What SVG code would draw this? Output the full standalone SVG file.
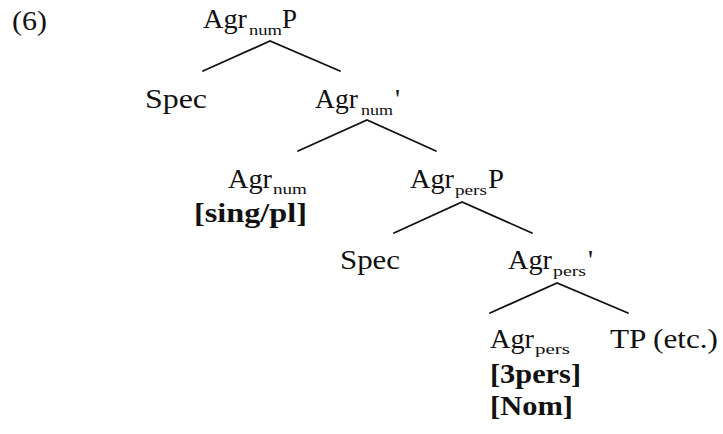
<svg xmlns="http://www.w3.org/2000/svg" width="723" height="434" viewBox="0 0 723 434">
<style>
text{font-family:"Liberation Serif","Times New Roman",serif;fill:#111;}
.m{font-size:28px;}
.s{font-size:15px;}
.b{font-size:28px;font-weight:bold;}
.e{stroke:#111;stroke-width:1.8;fill:none;stroke-linecap:round;}
</style>
<rect width="723" height="434" fill="#fff"/>
<text class="m" x="12" y="30" textLength="35" lengthAdjust="spacingAndGlyphs">(6)</text>
<g id="connectors">
<path class="e" d="M203,71 L270,41 L340,71"/>
<path class="e" d="M298,151 L367,120 L436,151"/>
<path class="e" d="M394,233 L462,202 L532,233"/>
<path class="e" d="M490,313 L557,283 L628,313"/>
</g>
<g id="AgrnumP">
<text class="m" x="203" y="28" textLength="44" lengthAdjust="spacingAndGlyphs">Agr</text>
<text class="s" x="249" y="35" textLength="33" lengthAdjust="spacingAndGlyphs">num</text>
<text class="m" x="282" y="28" textLength="15" lengthAdjust="spacingAndGlyphs">P</text>
</g>
<g id="Spec1">
<text class="m" x="145" y="108" textLength="62" lengthAdjust="spacingAndGlyphs">Spec</text>
</g>
<g id="Agrnum-bar">
<text class="m" x="315" y="108" textLength="43" lengthAdjust="spacingAndGlyphs">Agr</text>
<text class="s" x="361" y="115" textLength="32" lengthAdjust="spacingAndGlyphs">num</text>
<text class="m" x="395" y="108">'</text>
</g>
<g id="Agrnum">
<text class="m" x="228" y="188" textLength="44" lengthAdjust="spacingAndGlyphs">Agr</text>
<text class="s" x="273" y="194" textLength="34" lengthAdjust="spacingAndGlyphs">num</text>
<text class="b" x="194" y="222" textLength="113" lengthAdjust="spacingAndGlyphs">[sing/pl]</text>
</g>
<g id="AgrpersP">
<text class="m" x="410" y="188" textLength="44" lengthAdjust="spacingAndGlyphs">Agr</text>
<text class="s" x="455" y="195" textLength="32" lengthAdjust="spacingAndGlyphs">pers</text>
<text class="m" x="488" y="188" textLength="16" lengthAdjust="spacingAndGlyphs">P</text>
</g>
<g id="Spec2">
<text class="m" x="340" y="269" textLength="60" lengthAdjust="spacingAndGlyphs">Spec</text>
</g>
<g id="Agrpers-bar">
<text class="m" x="508" y="269" textLength="44" lengthAdjust="spacingAndGlyphs">Agr</text>
<text class="s" x="553" y="276" textLength="33" lengthAdjust="spacingAndGlyphs">pers</text>
<text class="m" x="588" y="269">'</text>
</g>
<g id="Agrpers">
<text class="m" x="490" y="348" textLength="44" lengthAdjust="spacingAndGlyphs">Agr</text>
<text class="s" x="535" y="354" textLength="35" lengthAdjust="spacingAndGlyphs">pers</text>
<text class="b" x="490" y="383" textLength="91" lengthAdjust="spacingAndGlyphs">[3pers]</text>
<text class="b" x="490" y="415" textLength="83" lengthAdjust="spacingAndGlyphs">[Nom]</text>
</g>
<g id="TP">
<text class="m" x="610" y="348" textLength="108" lengthAdjust="spacingAndGlyphs">TP (etc.)</text>
</g>
</svg>
